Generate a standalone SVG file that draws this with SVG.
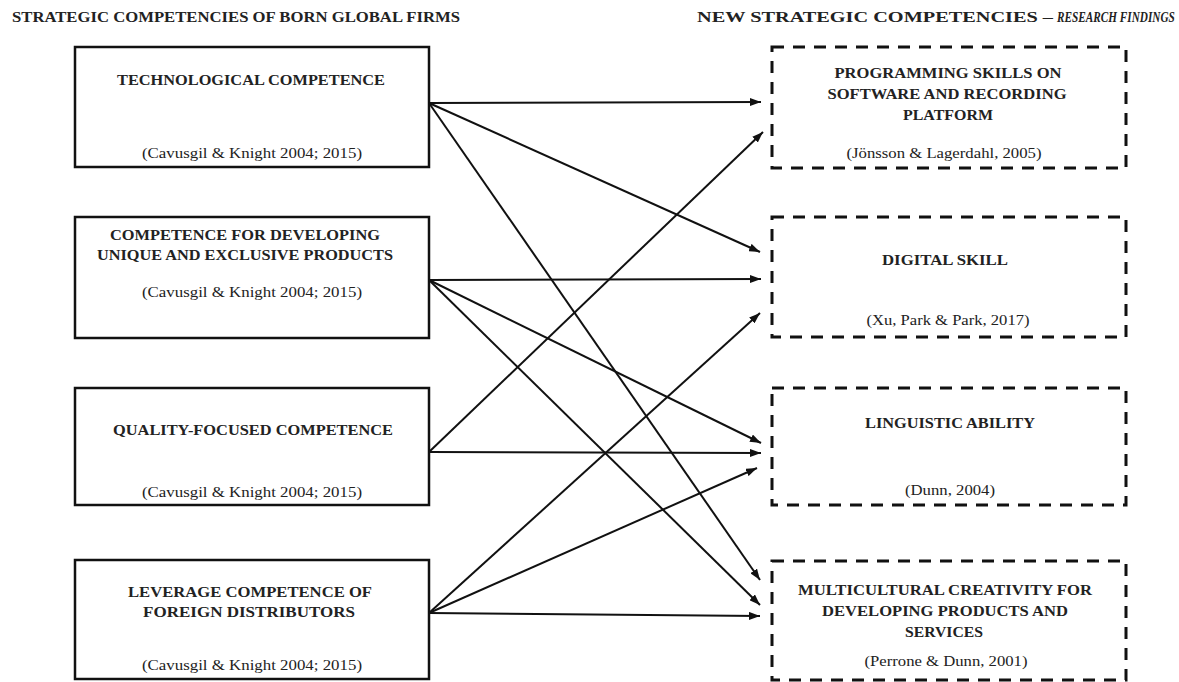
<svg xmlns="http://www.w3.org/2000/svg" width="1179" height="682" viewBox="0 0 1179 682">
<style>
  text { font-family: "Liberation Serif", "Times New Roman", serif; fill: #222; }
  .t { font-weight: bold; font-size: 15.5px; }
  .c { font-size: 15px; }
  .h { font-weight: bold; font-size: 15px; }
  .solid { fill: #fff; stroke: #111; stroke-width: 2.5; }
  .dash { fill: #fff; stroke: #111; stroke-width: 3; stroke-dasharray: 12 9; }
  .conn line { stroke: #111; stroke-width: 2; marker-end: url(#arr); }
</style>
<defs>
  <marker id="arr" markerUnits="userSpaceOnUse" markerWidth="11" markerHeight="8" refX="11" refY="4" orient="auto">
    <path d="M0,0 L11,4 L0,8 z" fill="#111"/>
  </marker>
</defs>
<rect width="1179" height="682" fill="#fff"/>

<g id="titles">
  <text class="h" x="12" y="22" textLength="448" lengthAdjust="spacingAndGlyphs">STRATEGIC COMPETENCIES OF BORN GLOBAL FIRMS</text>
  <text class="h" x="697" y="22" textLength="356" lengthAdjust="spacingAndGlyphs">NEW STRATEGIC COMPETENCIES –</text>
  <text class="h" transform="translate(1057,22) scale(0.75,1)" x="0" y="0" font-style="italic" font-size="14">RESEARCH FINDINGS</text>
</g>

<g id="L1">
  <rect class="solid" x="75" y="47" width="354" height="120"/>
  <text class="t" x="251" y="85" text-anchor="middle" textLength="268" lengthAdjust="spacingAndGlyphs">TECHNOLOGICAL COMPETENCE</text>
  <text class="c" x="252" y="158" text-anchor="middle" textLength="220" lengthAdjust="spacingAndGlyphs">(Cavusgil &amp; Knight 2004; 2015)</text>
</g>
<g id="L2">
  <rect class="solid" x="75" y="217" width="354" height="121"/>
  <text class="t" x="245" y="240" text-anchor="middle" textLength="270" lengthAdjust="spacingAndGlyphs">COMPETENCE FOR DEVELOPING</text>
  <text class="t" x="245" y="260" text-anchor="middle" textLength="296" lengthAdjust="spacingAndGlyphs">UNIQUE AND EXCLUSIVE PRODUCTS</text>
  <text class="c" x="252" y="297" text-anchor="middle" textLength="220" lengthAdjust="spacingAndGlyphs">(Cavusgil &amp; Knight 2004; 2015)</text>
</g>
<g id="L3">
  <rect class="solid" x="75" y="388" width="354" height="117"/>
  <text class="t" x="253" y="435" text-anchor="middle" textLength="280" lengthAdjust="spacingAndGlyphs">QUALITY-FOCUSED COMPETENCE</text>
  <text class="c" x="252" y="497" text-anchor="middle" textLength="220" lengthAdjust="spacingAndGlyphs">(Cavusgil &amp; Knight 2004; 2015)</text>
</g>
<g id="L4">
  <rect class="solid" x="75" y="560" width="354" height="119"/>
  <text class="t" x="250" y="597" text-anchor="middle" textLength="244" lengthAdjust="spacingAndGlyphs">LEVERAGE COMPETENCE OF</text>
  <text class="t" x="249" y="617" text-anchor="middle" textLength="212" lengthAdjust="spacingAndGlyphs">FOREIGN DISTRIBUTORS</text>
  <text class="c" x="252" y="670" text-anchor="middle" textLength="220" lengthAdjust="spacingAndGlyphs">(Cavusgil &amp; Knight 2004; 2015)</text>
</g>

<g id="R1">
  <rect class="dash" x="772" y="47" width="354" height="121"/>
  <text class="t" x="948" y="78" text-anchor="middle" textLength="227" lengthAdjust="spacingAndGlyphs">PROGRAMMING SKILLS ON</text>
  <text class="t" x="947" y="99" text-anchor="middle" textLength="239" lengthAdjust="spacingAndGlyphs">SOFTWARE AND RECORDING</text>
  <text class="t" x="948" y="120" text-anchor="middle" textLength="90" lengthAdjust="spacingAndGlyphs">PLATFORM</text>
  <text class="c" x="944" y="158" text-anchor="middle" textLength="195" lengthAdjust="spacingAndGlyphs">(Jönsson &amp; Lagerdahl, 2005)</text>
</g>
<g id="R2">
  <rect class="dash" x="772" y="217" width="354" height="120"/>
  <text class="t" x="945" y="265" text-anchor="middle" textLength="126" lengthAdjust="spacingAndGlyphs">DIGITAL SKILL</text>
  <text class="c" x="948" y="325" text-anchor="middle" textLength="163" lengthAdjust="spacingAndGlyphs">(Xu, Park &amp; Park, 2017)</text>
</g>
<g id="R3">
  <rect class="dash" x="772" y="388" width="354" height="117"/>
  <text class="t" x="950" y="428" text-anchor="middle" textLength="170" lengthAdjust="spacingAndGlyphs">LINGUISTIC ABILITY</text>
  <text class="c" x="950" y="495" text-anchor="middle" textLength="90" lengthAdjust="spacingAndGlyphs">(Dunn, 2004)</text>
</g>
<g id="R4">
  <rect class="dash" x="772" y="561" width="354" height="119"/>
  <text class="t" x="945" y="595" text-anchor="middle" textLength="294" lengthAdjust="spacingAndGlyphs">MULTICULTURAL CREATIVITY FOR</text>
  <text class="t" x="945" y="616" text-anchor="middle" textLength="246" lengthAdjust="spacingAndGlyphs">DEVELOPING PRODUCTS AND</text>
  <text class="t" x="944" y="637" text-anchor="middle" textLength="78" lengthAdjust="spacingAndGlyphs">SERVICES</text>
  <text class="c" x="946" y="666" text-anchor="middle" textLength="163" lengthAdjust="spacingAndGlyphs">(Perrone &amp; Dunn, 2001)</text>
</g>

<g id="connectors" class="conn">
  <line x1="429" y1="103" x2="761" y2="102"/>
  <line x1="429" y1="103" x2="760" y2="252"/>
  <line x1="429" y1="103" x2="760" y2="580"/>
  <line x1="429" y1="280" x2="761" y2="279"/>
  <line x1="429" y1="280" x2="761" y2="443"/>
  <line x1="429" y1="280" x2="760" y2="605"/>
  <line x1="429" y1="452" x2="763" y2="132"/>
  <line x1="429" y1="452" x2="761" y2="453"/>
  <line x1="429" y1="613" x2="760" y2="313"/>
  <line x1="429" y1="613" x2="757" y2="468"/>
  <line x1="429" y1="613" x2="760" y2="616"/>
</g>
</svg>
